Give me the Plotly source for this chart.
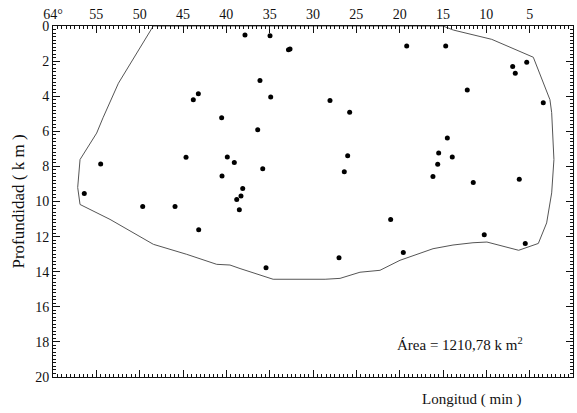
import plotly.graph_objects as go

# Epicentre positions: longitude (minutes west of 64°) and depth (km)
lon = [37.85, 34.96, 32.83, 32.65, 36.12, 43.23, 43.81, 34.88, 40.54, 19.19,
       14.69, 5.34, 6.96, 6.66, 12.2, 28.04, 3.43, 25.77, 36.38, 54.5,
       44.65, 39.89, 39.08, 35.8, 40.5, 38.11, 38.31, 38.8, 38.5, 56.39,
       49.65, 45.92, 43.19, 35.42, 14.5, 15.5, 13.93, 26.0, 15.61, 26.39,
       16.16, 11.51, 6.2, 21.04, 10.24, 5.51, 19.58, 27.0]
depth = [0.51, 0.55, 1.36, 1.31, 3.11, 3.86, 4.20, 4.05, 5.23, 1.14,
         1.14, 2.06, 2.31, 2.69, 3.64, 4.24, 4.38, 4.91, 5.91, 7.86,
         7.48, 7.46, 7.78, 8.13, 8.54, 9.26, 9.68, 9.89, 10.47, 9.55,
         10.28, 10.28, 11.61, 13.77, 6.38, 7.23, 7.46, 7.39, 7.88, 8.31,
         8.58, 8.92, 8.73, 11.02, 11.89, 12.40, 12.91, 13.2]

# Area boundary polygon
poly_lon = [48.43, 52.45, 54.23, 54.96, 56.88, 57.15, 56.88, 53.42, 48.42, 44.57,
            41.11, 39.58, 38.42, 34.6, 28.6, 26.88, 24.58, 22.27, 19.96, 16.15,
            13.85, 11.54, 9.93, 6.27, 4.0, 3.04, 2.46, 2.2, 2.46, 2.66,
            4.58, 9.38, 13.81, 15.0, 48.43]
poly_depth = [0, 3.26, 5.23, 6.10, 7.61, 9.2, 10.17, 11.02, 12.44, 13.01,
              13.58, 13.62, 13.82, 14.43, 14.43, 14.38, 14.03, 13.92, 13.35, 12.69,
              12.48, 12.35, 12.31, 12.78, 12.39, 11.22, 9.51, 7.61, 4.94, 4.2,
              1.78, 0.76, 0.23, 0, 0]

x_tickvals = [60, 55, 50, 45, 40, 35, 30, 25, 20, 15, 10, 5, 0]
x_ticktext = ["64°", "55", "50", "45", "40", "35", "30", "25", "20", "15", "10", "5", "63°"]
y_tickvals = [0, 2, 4, 6, 8, 10, 12, 14, 16, 18, 20]
x_minor = [v / 2 for v in range(0, 121)]
y_minor = [v / 5 for v in range(0, 101)]

FONT = "Liberation Serif"
INK = "#111111"

fig = go.Figure()
fig.add_trace(go.Scatter(x=poly_lon, y=poly_depth, mode="lines",
                         line=dict(color="#555555", width=1), hoverinfo="skip",
                         showlegend=False))
fig.add_trace(go.Scatter(x=lon, y=depth, mode="markers",
                         marker=dict(color="black", size=5), showlegend=False))

fig.update_layout(
    width=577, height=413,
    margin=dict(l=53, r=4, t=26, b=36, autoexpand=False),
    paper_bgcolor="white", plot_bgcolor="white",
    font=dict(family=FONT, size=14, color=INK),
    xaxis=dict(range=[60, 0], side="top", tickmode="array",
               tickvals=x_tickvals, ticktext=x_ticktext,
               ticks="inside", ticklen=7, tickwidth=1.2, tickcolor=INK,
               showline=True, linecolor=INK, linewidth=1, mirror="allticks",
               showgrid=False, zeroline=False, automargin=False,
               minor=dict(tickmode="array", tickvals=x_minor, ticks="inside", ticklen=3,
                          tickwidth=1, tickcolor=INK, showgrid=False),
               tickfont=dict(family=FONT, size=14, color=INK)),
    yaxis=dict(range=[20, 0], tickmode="array", tickvals=y_tickvals,
               ticks="inside", ticklen=7, tickwidth=1.2, tickcolor=INK,
               showline=True, linecolor=INK, linewidth=1, mirror="allticks",
               showgrid=False, zeroline=False, automargin=False,
               minor=dict(tickmode="array", tickvals=y_minor, ticks="inside", ticklen=3,
                          tickwidth=1, tickcolor=INK, showgrid=False),
               title=dict(text="Profundidad ( k m )", font=dict(family=FONT, size=17, color=INK),
                          standoff=6),
               tickfont=dict(family=FONT, size=14, color=INK)),
)

fig.add_annotation(x=0.908, y=18.1, xref="paper", yref="y", xanchor="right", yanchor="middle",
                   text="Área = 1210,78 k m<sup>2</sup>", showarrow=False,
                   font=dict(family=FONT, size=15, color=INK))
fig.add_annotation(x=0.905, y=-0.035, xref="paper", yref="paper", xanchor="right", yanchor="top",
                   text="Longitud ( min )", showarrow=False,
                   font=dict(family=FONT, size=15, color=INK))

fig.write_html("out.html", config={"displayModeBar": False},
               post_script="document.body.style.margin='0';document.body.style.padding='0';")
